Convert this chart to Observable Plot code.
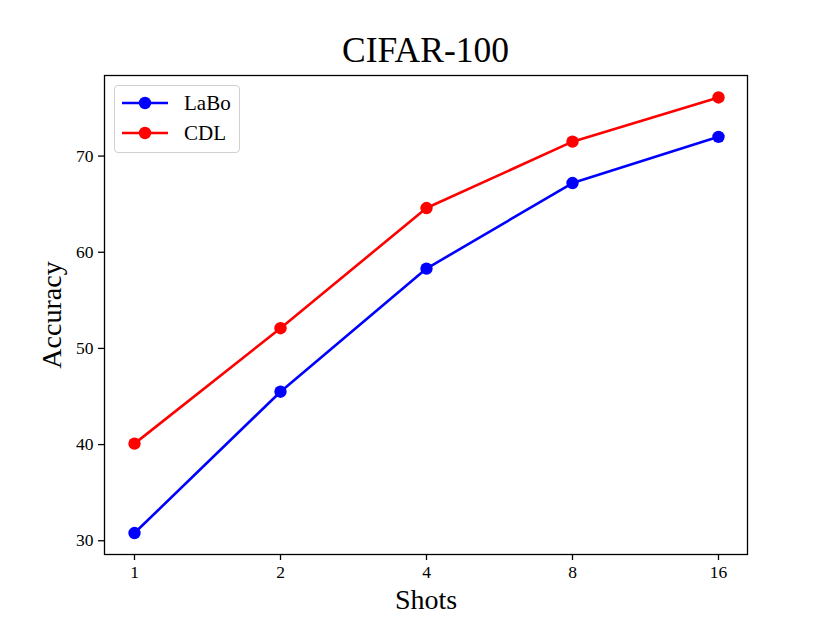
<!DOCTYPE html>
<html>
<head>
<meta charset="utf-8">
<script src="https://cdn.jsdelivr.net/npm/d3@7"></script>
<script src="https://cdn.jsdelivr.net/npm/@observablehq/plot@0.6"></script>
<style>
  html, body { margin: 0; padding: 0; background: #fff; }
  #wrap { position: relative; width: 830px; height: 623px; font-family: "Liberation Serif", "Times New Roman", serif; }
  #title { height: 70px; box-sizing: border-box; padding-top: 33px; font-size: 35.5px; line-height: 1; text-align: center; padding-left: 21px; color: #000; }
  #legend { position: absolute; left: 114px; top: 85px; width: 124px; height: 66px; border: 1px solid #d0d0d0; border-radius: 4px; background: rgba(255,255,255,0.8); }
  .row { position: absolute; left: 0; height: 30px; display: flex; align-items: center; font-size: 21px; }
  .row svg { margin-left: 7px; margin-right: 16px; }
  svg { display: block; }
</style>
</head>
<body>
<div id="wrap">
  <div id="title">CIFAR-100</div>
  <div id="chart"></div>
  <div id="legend"></div>
</div>
<script>
const shots = ["1", "2", "4", "8", "16"];
const labo = [30.8, 45.5, 58.3, 67.2, 72.0];
const cdl = [40.1, 52.1, 64.6, 71.5, 76.1];
const yTicks = [30, 40, 50, 60, 70];
const seriesNames = ["LaBo", "CDL"];
const seriesColors = ["#0000ff", "#ff0000"];

const rows = [];
shots.forEach((s, i) => rows.push({shot: s, acc: labo[i], series: "LaBo"}));
shots.forEach((s, i) => rows.push({shot: s, acc: cdl[i], series: "CDL"}));

const font = '"Liberation Serif", "Times New Roman", serif';

const chart = Plot.plot({
  width: 830,
  height: 553,
  marginLeft: 104,
  marginRight: 83,
  marginTop: 5,
  marginBottom: 69,
  style: {fontFamily: font, fontSize: "17.5px", color: "#000", background: "#fff"},
  x: {type: "point", domain: shots, padding: 0.2},
  y: {domain: [28.57, 78.38]},
  color: {domain: seriesNames, range: seriesColors},
  marks: [
    Plot.axisX({ticks: shots, tickSize: 6, tickPadding: 5, label: null, stroke: "#000", strokeWidth: 1.3, fontSize: 17.5}),
    Plot.axisY({ticks: yTicks, tickSize: 6, tickPadding: 5, label: null, stroke: "#000", strokeWidth: 1.3, fontSize: 17.5}),
    Plot.line(rows, {x: "shot", y: "acc", z: "series", stroke: "series", strokeWidth: 2.6}),
    Plot.dot(rows, {x: "shot", y: "acc", fill: "series", r: 6.2}),
    Plot.frame({stroke: "#000", strokeWidth: 1.3}),
    Plot.text(["Shots"], {frameAnchor: "bottom", dy: 46, fontSize: 28, lineAnchor: "middle", textAnchor: "middle", fill: "#000"}),
    Plot.text(["Accuracy"], {frameAnchor: "left", dx: -52, rotate: -90, fontSize: 28, lineAnchor: "middle", textAnchor: "middle", fill: "#000"})
  ]
});
document.getElementById("chart").appendChild(chart);

const legend = document.getElementById("legend");
seriesNames.forEach((name, i) => {
  const row = document.createElement("div");
  row.className = "row";
  row.style.top = (2 + i * 30) + "px";
  const sw = d3.create("svg").attr("width", 46).attr("height", 14);
  sw.append("line").attr("x1", 0).attr("x2", 46).attr("y1", 7).attr("y2", 7)
    .attr("stroke", seriesColors[i]).attr("stroke-width", 2.6);
  sw.append("circle").attr("cx", 23).attr("cy", 7).attr("r", 6.2).attr("fill", seriesColors[i]);
  row.appendChild(sw.node());
  const t = document.createElement("span");
  t.textContent = name;
  row.appendChild(t);
  legend.appendChild(row);
});
</script>
</body>
</html>
